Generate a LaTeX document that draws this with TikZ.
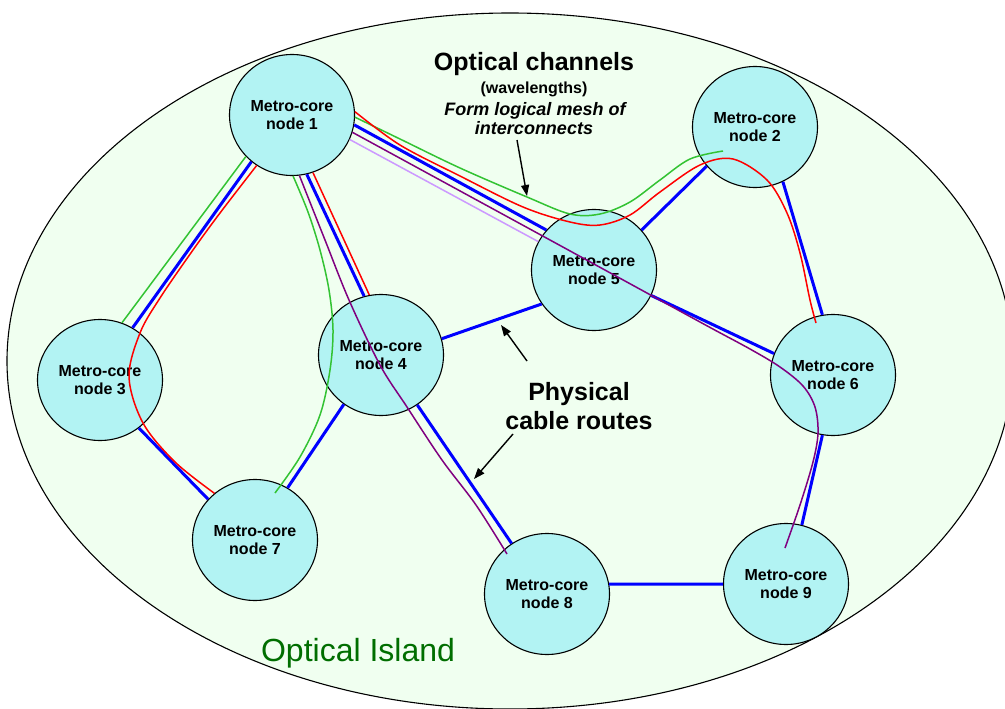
\documentclass[tikz,border=0pt]{standalone}
\usepackage{fontspec}
\setmainfont{Liberation Sans}
\usetikzlibrary{shapes.geometric,arrows.meta,calc}
\definecolor{bgmint}{RGB}{240,255,240}
\definecolor{nodecyan}{RGB}{178,243,243}
\definecolor{cblue}{RGB}{0,0,255}
\definecolor{cred}{RGB}{255,0,0}
\definecolor{cgreen}{RGB}{51,195,51}
\definecolor{cpurple}{RGB}{128,0,128}
\definecolor{clav}{RGB}{204,153,255}
\definecolor{islandgreen}{RGB}{0,110,0}
\begin{document}
\begin{tikzpicture}[x=1pt,y=-1pt,
  mnode/.style={ellipse, draw=black, line width=1.1pt, fill=nodecyan,
    minimum width=125pt, minimum height=121pt, inner sep=0pt, align=center,
    font=\fontsize{16}{18.5}\selectfont\bfseries},
  cable/.style={draw=cblue, line width=3pt},
  chan/.style={line width=1.5pt},
  gch/.style={chan, draw=cgreen},
  rch/.style={chan, draw=cred},
  pch/.style={chan, draw=cpurple},
  lch/.style={chan, draw=clav},
  pointer/.style={draw=black, line width=1.4pt, -{Triangle[length=11pt,width=8pt]}},
  lbl/.style={anchor=base, inner sep=0pt}
]
\useasboundingbox (0,0) rectangle (1005,709);
% island
\draw[fill=bgmint, line width=1.1pt] (510,361) ellipse [x radius=503, y radius=348];

% nodes
\node[mnode] (n1) at (292,115) {Metro-core\\node 1};
\node[mnode] (n2) at (755,127) {Metro-core\\node 2};
\node[mnode] (n3) at (100,380) {Metro-core\\node 3};
\node[mnode] (n4) at (381,355) {Metro-core\\node 4};
\node[mnode] (n5) at (594,270) {Metro-core\\node 5};
\node[mnode] (n6) at (833,375) {Metro-core\\node 6};
\node[mnode] (n7) at (255,540) {Metro-core\\node 7};
\node[mnode] (n8) at (547,594) {Metro-core\\node 8};
\node[mnode] (n9) at (786,584) {Metro-core\\node 9};

% physical cables
\draw[cable] (n1.229) -- (n3.58);
\draw[cable] (n3.309) -- (n7.139);
\draw[cable] (n1.284) -- (n4.106);
\draw[cable] (n4.233) -- (n7.58);
\draw[cable] (n4.306) -- (n8.125);
\draw[cable] (n4.15) -- (n5.213);
\draw[cable] (n1.351) -- (n5.140);
\draw[cable] (n2.219) -- (n5.40);
\draw[cable] (n2.297) -- (n6.100);
\draw[cable] (n5.336) -- (n6.160);
\draw[cable] (n6.260) -- (n9.75);
\draw[cable] (n8.9) -- (n9.west);

% channel end points inside nodes
\coordinate (g2end) at ($(n2)+(-32,24)$);
\coordinate (r6end) at ($(n6)+(-17,-52)$);
\coordinate (g7end) at ($(n7)+(20,-47)$);
\coordinate (p8end) at ($(n8)+(-40,-40)$);
\coordinate (p9end) at ($(n9)+(-1,-36)$);

% optical channels
\draw[gch] (n1.222) -- (n3.69);
\draw[rch] (n1.290) -- (n4.101);
\draw[lch] (n1.337) -- (n5.153);
\draw[gch] plot[smooth, tension=0.55] coordinates {(n1.358) (400,139) (460,168) (527,197) (570,214) (600,214) (630,202) (660,180) (690,159) (g2end)};
\draw[rch] plot[smooth, tension=0.55] coordinates {(n1.3) (400,145) (460,176) (523,207) (570,222) (600,225) (630,215) (660,192) (700,165) (733,159) (767,180) (787,213) (800,253) (810,300) (r6end)};
\draw[rch] plot[smooth, tension=0.55] coordinates {(n1.235) (220,213) (193,250) (160,298) (140,333) (129,377) (143,423) (175,462) (n7.131)};
\draw[gch] plot[smooth, tension=0.55] coordinates {(n1.271) (308,212) (320,250) (329,290) (333,330) (330,370) (320,415) (300,457) (g7end)};
\draw[pch] plot[smooth, tension=0.55] coordinates {(n1.277) (325,240) (349,300) (380,365) (407,407) (442,460) (476,505) (p8end)};
\draw[pch] plot[smooth, tension=0.55] coordinates {(n1.344) (550,240) (700,322) (750,349) (780,367) (803,386) (815,407) (818,433) (813,462) (800,505) (p9end)};

% texts
\node[lbl, font=\fontsize{25}{30}\selectfont\bfseries] (tch) at (534,71) {Optical channels};
\node[lbl, font=\fontsize{16}{19}\selectfont\bfseries] (twl) at (534,93) {(wavelengths)};
\node[lbl, font=\fontsize{18}{20}\selectfont\bfseries\itshape] (tfm) at (535,115) {Form logical mesh of};
\node[lbl, font=\fontsize{18}{20}\selectfont\bfseries\itshape] (tic) at (534,135) {interconnects};
\node[lbl, font=\fontsize{25}{30}\selectfont\bfseries] (tph) at (579,400) {Physical};
\node[lbl, font=\fontsize{25}{30}\selectfont\bfseries] (tcr) at (579,429) {cable routes};
\node[lbl, font=\fontsize{32}{38}\selectfont, text=islandgreen] (tis) at (358,661) {Optical Island};

% pointers
\coordinate (a1s) at (517,140);
\coordinate (a1e) at (527,196);
\coordinate (a2s) at (527,361);
\coordinate (a2e) at (501,325);
\coordinate (a3s) at (513,434);
\coordinate (a3e) at (474,479);
\draw[pointer] (a1s) -- (a1e);
\draw[pointer] (a2s) -- (a2e);
\draw[pointer] (a3s) -- (a3e);
\end{tikzpicture}
\end{document}
